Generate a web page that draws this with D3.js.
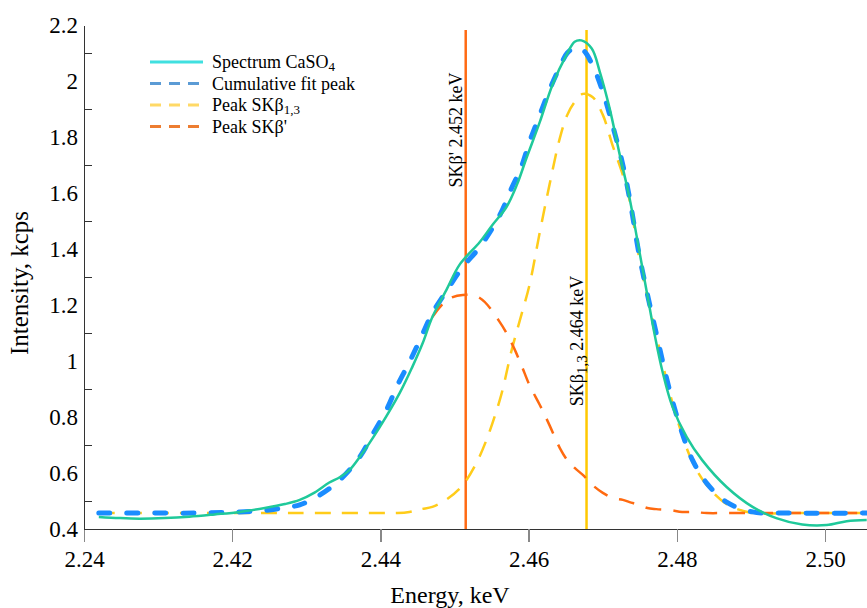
<!DOCTYPE html>
<html lang="en">
<head>
<meta charset="utf-8">
<title>SKβ emission spectrum of CaSO4</title>
<script src="https://d3js.org/d3.v7.min.js"></script>
<style>
  body { margin: 0; background: #fff; }
  svg { display: block; font-family: "Liberation Serif", "Times New Roman", serif; }
  .axis path, .axis line { fill: none; shape-rendering: crispEdges; }
  .axis--y path, .axis--y line { stroke: #333; stroke-width: 1.5px; }
  .axis--x path { stroke: #333; stroke-width: 1.5px; }
  .axis--x line { stroke: #888; stroke-width: 1.5px; }
  .title { font-size: 24px; fill: #000; }
  .legend text { font-size: 18px; fill: #000; }
  .mark-label { font-size: 18px; fill: #000; }
</style>
</head>
<body>
<script>
// measured spectrum (keV, kcps)
var specEnergy = [2.4020,2.4048,2.4075,2.4109,2.4142,2.4176,2.4210,2.4244,2.4271,2.4291,2.4311,2.4331,2.4345,2.4358,2.4372,2.4399,2.4426,2.4443,2.4457,2.4470,2.4489,2.4507,2.4534,2.4551,2.4570,2.4584,2.4597,2.4615,2.4632,2.4651,2.4662,2.4671,2.4685,2.4696,2.4709,2.4722,2.4736,2.4749,2.4760,2.4770,2.4780,2.4794,2.4813,2.4834,2.4867,2.4902,2.4934,2.4969,2.5002,2.5029,2.5056];
var specIntensity = [0.443,0.439,0.437,0.439,0.444,0.452,0.461,0.475,0.489,0.504,0.530,0.566,0.585,0.610,0.657,0.764,0.886,0.979,1.064,1.157,1.254,1.345,1.425,1.486,1.550,1.629,1.725,1.854,1.986,2.093,2.140,2.145,2.116,2.032,1.904,1.746,1.582,1.396,1.236,1.093,0.968,0.836,0.729,0.646,0.550,0.479,0.439,0.416,0.414,0.428,0.432];

// fitted peaks on a shared energy grid
var fitEnergy = [2.4020,2.4088,2.4156,2.4210,2.4250,2.4277,2.4291,2.4318,2.4345,2.4372,2.4389,2.4408,2.4423,2.4439,2.4455,2.4470,2.4490,2.4511,2.4534,2.4561,2.4577,2.4590,2.4601,2.4615,2.4628,2.4642,2.4652,2.4662,2.4673,2.4686,2.4700,2.4713,2.4727,2.4736,2.4749,2.4760,2.4772,2.4790,2.4807,2.4821,2.4840,2.4867,2.4902,2.4948,2.5056];
var cumulativeFit = [0.457,0.457,0.457,0.461,0.468,0.479,0.486,0.521,0.575,0.657,0.736,0.825,0.914,0.996,1.086,1.171,1.254,1.336,1.407,1.521,1.618,1.693,1.782,1.879,1.968,2.050,2.100,2.118,2.111,2.057,1.961,1.843,1.700,1.582,1.380,1.240,1.100,0.896,0.743,0.646,0.564,0.496,0.461,0.457,0.457];
var peakBeta13 = [0.457,0.457,0.457,0.457,0.457,0.457,0.457,0.457,0.457,0.457,0.457,0.457,0.457,0.461,0.471,0.479,0.507,0.557,0.661,0.861,1.039,1.164,1.271,1.461,1.629,1.796,1.879,1.925,1.954,1.943,1.879,1.771,1.664,1.575,1.368,1.229,1.093,0.889,0.736,0.639,0.557,0.489,0.457,0.457,0.457];
// left wing of SKβ' lies under the cumulative curve and is not visible
var peakBetaPrime = [null,null,null,null,null,null,null,null,null,null,null,null,null,null,null,1.157,1.218,1.236,1.225,1.139,1.064,0.986,0.914,0.843,0.771,0.689,0.646,0.618,0.593,0.557,0.529,0.511,0.504,0.496,0.486,0.475,0.471,0.468,0.461,0.461,0.457,0.457,0.457,0.457,0.457];

// line positions (keV) and their captions
var markEnergy = [2.4515, 2.4678];
var markLabel = ["SKβ' 2.452 keV", "SKβ1,3 2.464 keV"];

var xTickValues = [2.40, 2.42, 2.44, 2.46, 2.48, 2.50];
var xTickLabels = ["2.24", "2.42", "2.44", "2.46", "2.48", "2.50"];
var yTickValues = [0.4, 0.6, 0.8, 1.0, 1.2, 1.4, 1.6, 1.8, 2.0, 2.2];
var yTickLabels = ["0.4", "0.6", "0.8", "1", "1.2", "1.4", "1.6", "1.8", "2", "2.2"];
var yMinorTicks = [0.5, 0.7, 0.9, 1.1, 1.3, 1.5, 1.7, 1.9, 2.1];

var legendNames = ["Spectrum CaSO", "Cumulative fit peak", "Peak SKβ", "Peak SKβ'"];
var legendSubs = ["4", "", "1,3", ""];

var margin = {top: 25, right: 0, bottom: 79, left: 84},
    width = 867 - margin.left - margin.right,
    height = 608 - margin.top - margin.bottom;

var serif = "Liberation Serif";

var x = d3.scaleLinear()
    .domain([2.40, 2.40 + width / 7412])
    .range([0, width]);

var y = d3.scaleLinear()
    .domain([0.4, 2.2])
    .range([height, 0]);

var svg = d3.select("body").append("svg")
    .attr("width", width + margin.left + margin.right)
    .attr("height", height + margin.top + margin.bottom);

var g = svg.append("g")
    .attr("transform", "translate(" + margin.left + "," + margin.top + ")");

var styles = [
  {color: "#1fc99a", legend: "#40e0e0", width: 2.5, dash: null, cap: "butt"},
  {color: "#1a8cff", legend: "#5b9bd5", width: 5, dash: "11 17", cap: "round"},
  {color: "#ffcc1a", legend: "#ffd966", width: 2.5, dash: "16 11", cap: "butt"},
  {color: "#ff6a10", legend: "#ed7d31", width: 2.5, dash: "16 12", cap: "butt"}
];

var line = d3.line()
    .defined(function(d) { return d[1] != null; })
    .x(function(d) { return x(d[0]); })
    .y(function(d) { return y(d[1]); })
    .curve(d3.curveCatmullRom.alpha(0.5));

// vertical marker lines
markEnergy.forEach(function(e, i) {
  g.append("line")
    .attr("x1", x(e)).attr("x2", x(e))
    .attr("y1", 5).attr("y2", height)
    .attr("stroke", i === 0 ? "#ff6a13" : "#ffc800")
    .attr("stroke-width", 2.5);
});

var series = [
  {idx: 2, data: d3.zip(fitEnergy, peakBeta13)},
  {idx: 3, data: d3.zip(fitEnergy, peakBetaPrime)},
  {idx: 1, data: d3.zip(fitEnergy, cumulativeFit)},
  {idx: 0, data: d3.zip(specEnergy, specIntensity)}
];

series.forEach(function(s) {
  var st = styles[s.idx];
  g.append("path")
    .datum(s.data)
    .attr("fill", "none")
    .attr("stroke", st.color)
    .attr("stroke-width", st.width)
    .attr("stroke-linecap", st.cap)
    .attr("stroke-dasharray", st.dash)
    .attr("d", line);
});

// axes
var xAxisG = g.append("g")
    .attr("class", "axis axis--x")
    .attr("transform", "translate(0," + height + ")")
    .call(d3.axisBottom(x)
      .tickValues(xTickValues)
      .tickFormat(function(d, i) { return xTickLabels[i]; })
      .tickSize(13)
      .tickSizeOuter(0)
      .tickPadding(9));

var yAxisG = g.append("g")
    .attr("class", "axis axis--y")
    .call(d3.axisLeft(y)
      .tickValues(yTickValues)
      .tickFormat(function(d, i) { return yTickLabels[i]; })
      .tickSize(0)
      .tickPadding(6));

[xAxisG, yAxisG].forEach(function(a) {
  a.attr("font-family", null).attr("font-size", null);
  a.selectAll("text")
    .style("font-family", serif)
    .style("font-size", "23px")
    .style("fill", "#000");
});

g.append("g")
    .attr("class", "axis axis--y minor")
    .call(d3.axisRight(y)
      .tickValues(yMinorTicks)
      .tickFormat("")
      .tickSize(8)
      .tickSizeOuter(0));

// axis titles
svg.append("text")
    .attr("class", "title")
    .attr("x", 450).attr("y", 603)
    .attr("text-anchor", "middle")
    .text("Energy, keV");

svg.append("text")
    .attr("class", "title")
    .attr("transform", "translate(28,283) rotate(-90)")
    .attr("text-anchor", "middle")
    .style("font-size", "25px")
    .text("Intensity, kcps");

// captions along marker lines
markLabel.forEach(function(t, i) {
  var px = margin.left + x(markEnergy[i]) - 4;
  var py = i === 0 ? 130 : 341;
  var txt = svg.append("text")
      .attr("class", "mark-label")
      .attr("transform", "translate(" + px + "," + py + ") rotate(-90)")
      .attr("text-anchor", "middle");
  if (i === 1) {
    txt.append("tspan").text("SKβ");
    txt.append("tspan").attr("font-size", "15px").attr("dy", 4).text("1,3");
    txt.append("tspan").attr("dy", -4).text(" 2.464 keV");
  } else {
    txt.text(t);
  }
});

// legend
var legend = svg.append("g").attr("class", "legend");
legendNames.forEach(function(name, i) {
  var st = styles[i];
  var ly = 62 + i * 21.5;
  legend.append("line")
    .attr("x1", 150).attr("x2", 203)
    .attr("y1", ly).attr("y2", ly)
    .attr("stroke", st.legend)
    .attr("stroke-width", 3)
    .attr("stroke-dasharray", st.dash ? "11 8" : null);
  var t = legend.append("text")
    .attr("x", 212).attr("y", ly + 6);
  t.append("tspan").text(name);
  if (legendSubs[i]) {
    t.append("tspan").attr("font-size", "13px").attr("dy", 3).text(legendSubs[i]);
  }
});
</script>
</body>
</html>
